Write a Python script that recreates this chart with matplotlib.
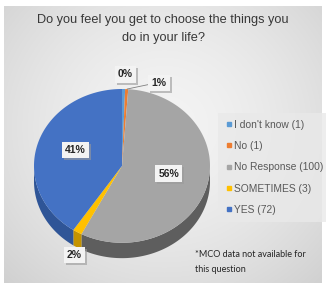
import numpy as np
import matplotlib.pyplot as plt
from matplotlib import patheffects as pe
from matplotlib.lines import Line2D

plt.rcParams['font.family'] = ['Liberation Sans', 'DejaVu Sans']

categories = ["I don't know (1)", "No (1)", "No Response (100)", "SOMETIMES (3)", "YES (72)"]
values     = [1, 1, 100, 3, 72]
pct_labels = ["0%", "1%", "56%", "2%", "41%"]
colors     = ['#5b9bd5', '#ed7d31', '#a5a5a5', '#ffc000', '#4472c4']
side_cols  = ['#3f77ad', '#b85d1f', '#5e5e5e', '#c49300', '#2f5597']

title = "Do you feel you get to choose the things you\ndo in your life?"
note  = "*MCO data not available for\nthis question"

W, H = 326, 287
fig = plt.figure(figsize=(W/100, H/100), dpi=100)
fig.patch.set_facecolor('white')

# background panel with soft radial gradient
bg = fig.add_axes([4/W, 1 - 283/H, 318/W, 277/H])
yy, xx = np.mgrid[0:277, 0:318]
d = np.sqrt(((xx - 160)/230.0)**2 + ((yy - 120)/220.0)**2)
shade = 0.955 - 0.14*np.clip(d, 0, 1)**1.6
bg.imshow(np.dstack([shade]*3), aspect='auto', interpolation='bilinear')
bg.set_axis_off()

# pie axes: unit circle squashed to an ellipse, with room for the side wall
depth = 0.2
ax = fig.add_axes([34/W, 1 - 262/H, 176/W, 173/H])
ax.set_xlim(-1, 1)
ax.set_ylim(-1 - depth - 0.05, 1)
ax.set_axis_off()

vals = np.array(values, dtype=float)
frac = vals / vals.sum()
ends = 90 - 360*np.cumsum(frac)
starts = np.r_[90, ends[:-1]]

# side walls (front half only)
for s, e, c in zip(starts, ends, side_cols):
    t = np.linspace(np.radians(e), np.radians(s), 200)
    tt = np.mod(t + np.pi, 2*np.pi) - np.pi
    m = tt < 0
    if not m.any():
        continue
    t = t[m]
    xs = np.cos(t)
    ys = np.sin(t)
    ax.fill(np.r_[xs, xs[::-1]], np.r_[ys, ys[::-1] - depth], color=c, lw=0, zorder=1)

# top surface
for s, e, c in zip(starts, ends, colors):
    t = np.linspace(np.radians(s), np.radians(e), 200)
    ax.fill(np.r_[0, np.cos(t), 0], np.r_[0, np.sin(t), 0], color=c, lw=0, zorder=2)

# labels
mids = np.radians((starts + ends)/2)
box = dict(boxstyle='square,pad=0.3', fc='#f3f3f3', ec='none')
shadow = [pe.withSimplePatchShadow(offset=(1.5, -1.5), shadow_rgbFace='#9a9a9a', alpha=0.6)]
label_pos = {0: (0.04, 1.19), 1: (0.42, 1.08), 3: (-0.54, -1.16)}
for i, lab in enumerate(pct_labels):
    if i in label_pos:
        x, y = label_pos[i]
    else:
        x, y = 0.55*np.cos(mids[i]), 0.55*np.sin(mids[i]) + 0.05
    txt = ax.text(x, y, lab, ha='center', va='center', fontsize=7.5, fontweight='bold',
                  color='#262626', bbox=box, zorder=5, clip_on=False)
    txt.get_bbox_patch().set_path_effects(shadow)

# leader line for the "1%" label
ax.plot([0.06, 0.31], [1.0, 1.06], color='#7f7f7f', lw=0.6, zorder=4, clip_on=False)

fig.text(163/W, 1 - 29/H, title, ha='center', va='center', fontsize=9.2,
         color='#383838', linespacing=1.75)

handles = [Line2D([], [], marker='s', ls='none', color=c, markersize=3.5) for c in colors]
leg = fig.legend(handles, categories, loc='upper left', bbox_to_anchor=(218/W, 1 - 113/H),
                 frameon=True, fontsize=7.4, labelspacing=1.1, handletextpad=0.15,
                 handlelength=0.8, borderpad=0.65, borderaxespad=0)
leg.get_frame().set_facecolor('#e9e9e9')
leg.get_frame().set_edgecolor('none')
leg.get_frame().set_boxstyle('square', pad=0)
for tx in leg.get_texts():
    tx.set_color('#595959')

fig.text(195/W, 1 - 262/H, note, ha='left', va='center', fontsize=6.5,
         color='#262626', linespacing=1.75, family=['Lato', 'DejaVu Sans'])

fig.savefig('out.png', dpi=100)
